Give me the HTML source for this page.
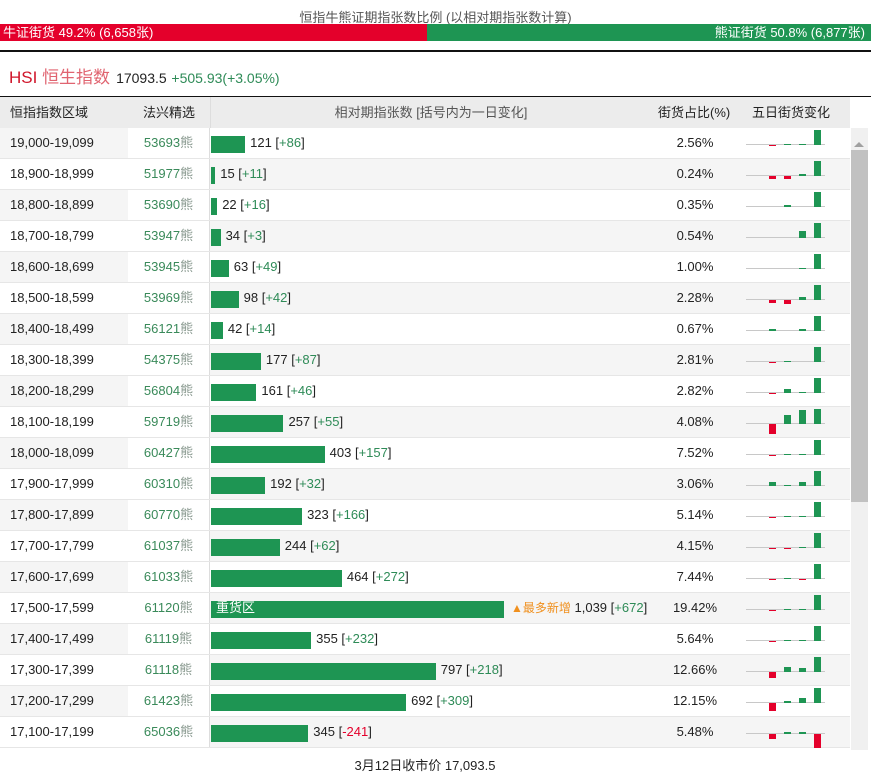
<!DOCTYPE html>
<html><head><meta charset="utf-8">
<style>
body{margin:0;width:871px;height:772px;overflow:hidden;background:#fff;font-family:"Liberation Sans","Noto Sans CJK SC",sans-serif;color:#222;position:relative}
.abs{position:absolute}
#title{left:0;width:871px;top:7px;text-align:center;font-size:13px;color:#555}
#bull{left:0;top:24px;width:427px;height:17px;background:#e4002b;color:#fff;font-size:13px;line-height:17px;padding-left:3px;box-sizing:border-box}
#bear{left:427px;top:24px;width:444px;height:17px;background:#1e9553;color:#fff;font-size:13px;line-height:17px;text-align:right;padding-right:6px;box-sizing:border-box}
#rule1{left:0;top:50px;width:871px;height:2px;background:#111}
#hsi{left:9px;top:63px;font-size:17px;color:#d0152a}
#hsi .cn{color:#e06470}
#hsi .px{font-size:14px;color:#222;margin-left:6px}
#hsi .ch{font-size:14px;color:#2e8b57}
#rule2{left:0;top:96px;width:871px;height:1px;background:#111}
#hdr{left:0;top:97px;width:850px;height:31px;background:#ececec;font-size:13px;line-height:31px}
.row{position:absolute;left:0;width:850px;height:31px;border-bottom:1px solid #e6e6e6;box-sizing:border-box;font-size:13px;line-height:30px}
.c1{position:absolute;left:0;width:128px;padding-left:10px;box-sizing:border-box;height:30px}
.c2{position:absolute;left:128px;width:81px;height:30px;text-align:center;color:#3a8a5a;background:#fff}
.c2 span{color:#8a9a90}
.c3{position:absolute;left:209px;width:441px;height:30px;border-left:1px solid #ddd}
.c4{position:absolute;left:650px;width:90px;height:30px;text-align:center}
.bar{position:absolute;top:8px;height:17px;background:#1e9553;left:1px}
.lbl{position:absolute;top:0;white-space:nowrap}
.g{color:#2e8b57}.r{color:#e4002b}
#scroll{left:851px;top:128px;width:17px;height:622px;background:#f0f0f0}
#thumb{left:851px;top:150px;width:17px;height:352px;background:#c1c1c1}
#foot{left:0;width:850px;top:755px;text-align:center;font-size:13px}
</style></head><body>
<div id="title" class="abs">恒指牛熊证期指张数比例 (以相对期指张数计算)</div>
<div id="bull" class="abs">牛证街货 49.2% (6,658张)</div>
<div id="bear" class="abs">熊证街货 50.8% (6,877张)</div>
<div id="rule1" class="abs"></div>
<div id="hsi" class="abs">HSI <span class="cn">恒生指数</span><span class="px">17093.5</span> <span class="ch">+505.93(+3.05%)</span></div>
<div id="rule2" class="abs"></div>
<div id="hdr" class="abs">
<span class="abs" style="left:10px">恒指指数区域</span>
<span class="abs" style="left:143px">法兴精选</span>
<span class="abs" style="left:210px;width:440px;text-align:center;color:#555;border-left:1px solid #ddd;height:31px">相对期指张数 [括号内为一日变化]</span>
<span class="abs" style="left:658px">街货占比(%)</span>
<span class="abs" style="left:752px">五日街货变化</span>
</div>
<div id="rows"></div>
<div id="scroll" class="abs"></div>
<div class="abs" style="left:854px;top:142px;width:0;height:0;border-left:5px solid transparent;border-right:5px solid transparent;border-bottom:5px solid #a0a0a0"></div>
<div id="thumb" class="abs"></div>
<div id="foot" class="abs">3月12日收市价 17,093.5</div>
<script>
const ranges=["19,000-19,099","18,900-18,999","18,800-18,899","18,700-18,799","18,600-18,699","18,500-18,599","18,400-18,499","18,300-18,399","18,200-18,299","18,100-18,199","18,000-18,099","17,900-17,999","17,800-17,899","17,700-17,799","17,600-17,699","17,500-17,599","17,400-17,499","17,300-17,399","17,200-17,299","17,100-17,199"];
const codes=["53693","51977","53690","53947","53945","53969","56121","54375","56804","59719","60427","60310","60770","61037","61033","61120","61119","61118","61423","65036"];
const counts=[121,15,22,34,63,98,42,177,161,257,403,192,323,244,464,1039,355,797,692,345];
const changes=[86,11,16,3,49,42,14,87,46,55,157,32,166,62,272,672,232,218,309,-241];
const pcts=["2.56%","0.24%","0.35%","0.54%","1.00%","2.28%","0.67%","2.81%","2.82%","4.08%","7.52%","3.06%","5.14%","4.15%","7.44%","19.42%","5.64%","12.66%","12.15%","5.48%"];
const spark=[[0,-1,1,1,15],[0,-3,-3,2,15],[0,0,2,0,15],[0,0,0,7,15],[0,0,0,1,15],[0,-3,-4,3,15],[0,2,0,2,15],[0,-1,1,0,15],[0,-1,4,1,15],[0,-10,9,14,15],[0,-1,1,1,15],[0,4,1,4,15],[0,-1,1,1,15],[0,-1,-1,1,15],[0,-1,1,-1,15],[0,-1,1,1,15],[0,-1,1,1,15],[0,-6,5,4,15],[0,-8,2,5,15],[0,-5,2,2,-15]];
const maxCount=Math.max(...counts);
const xScale=v=>v/maxCount*293;
const sparkY=v=>v;
const root=document.getElementById('rows');
const fmt=n=>n.toLocaleString('en-US');
counts.forEach((c,i)=>{
  const r=document.createElement('div');
  r.className='row';
  
  
  r.style.top=(128+i*31)+'px';
  const odd=i%2===1;
  r.style.background=odd?'#f5f5f5':'#fff';
  const c1=document.createElement('div');c1.className='c1';c1.textContent=ranges[i];
  c1.style.background=odd?'#fff':'#f5f5f5';
  
  
  const c2=document.createElement('div');c2.className='c2';c2.innerHTML=codes[i]+'<span>熊</span>';
  
  
  const c3=document.createElement('div');c3.className='c3';
  const w=xScale(c);
  const b=document.createElement('div');b.className='bar';b.style.width=w+'px';
  
  
  c3.appendChild(b);
  const ch=changes[i];
  const chs='[<span class="'+(ch>=0?'g':'r')+'">'+(ch>=0?'+':'')+ch+'</span>]';
  const l=document.createElement('div');l.className='lbl';
  
  
  if(c===maxCount){
    const t=document.createElement('div');t.className='lbl';t.style.left='6px';t.style.color='#fff';t.textContent='重货区';
    
    
    c3.appendChild(t);
    l.style.left=(w+8)+'px';
    l.innerHTML='<span style="color:#f0901e;font-size:12px">▲最多新增</span> '+fmt(c)+' '+chs;
  }else{
    l.style.left=(w+6)+'px';
    l.innerHTML=fmt(c)+' '+chs;
  }
  c3.appendChild(l);
  const c4=document.createElement('div');c4.className='c4';c4.textContent=pcts[i];
  
  
  const svg=document.createElementNS('http://www.w3.org/2000/svg','svg');
  svg.setAttribute('width','110');svg.setAttribute('height','31');
  
  
  svg.style.position='absolute';svg.style.left='740px';svg.style.top='0';
  const base=16;
  const ln=document.createElementNS('http://www.w3.org/2000/svg','line');
  ln.setAttribute('x1',6);ln.setAttribute('x2',85);ln.setAttribute('y1',base+0.5);ln.setAttribute('y2',base+0.5);
  ln.setAttribute('stroke','#c8c8c8');
  
  
  svg.appendChild(ln);
  spark[i].forEach((v,k)=>{
    if(v===0)return;
    const h=Math.abs(sparkY(v));
    const rc=document.createElementNS('http://www.w3.org/2000/svg','rect');
    
    
    rc.setAttribute('x',14+k*15);rc.setAttribute('width',7);
    rc.setAttribute('y',v>0?base-h+1:base+1);rc.setAttribute('height',h);
    rc.setAttribute('fill',v>0?'#1e9553':'#e4002b');
    svg.appendChild(rc);
  });
  r.append(c1,c2,c3,c4,svg);
  root.appendChild(r);
});
</script>
</body></html>
